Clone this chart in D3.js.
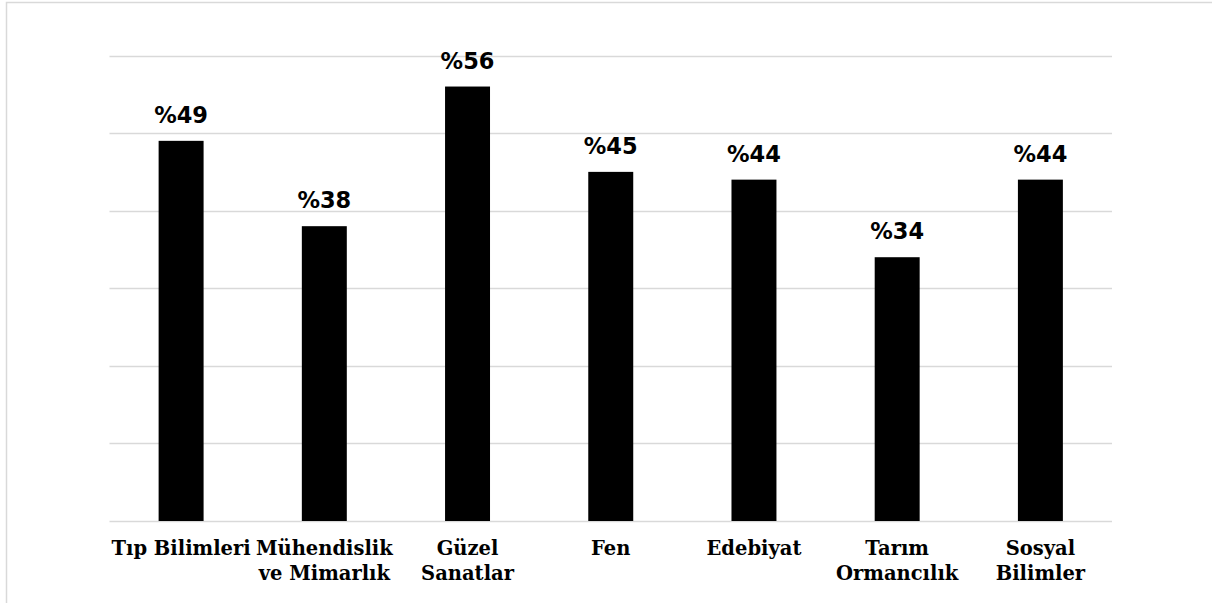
<!DOCTYPE html>
<html lang="tr">
<head>
    <meta charset="UTF-8">
    <title>Alanlara Göre Oranlar</title>
    <script src="https://d3js.org/d3.v7.min.js"></script>
    <style>
        body {
            margin: 0;
            background: #fff;
        }

        .value-label {
            font-family: "DejaVu Sans", Verdana, sans-serif;
            font-weight: bold;
            font-size: 22.5px;
            fill: #000;
            text-anchor: middle;
        }

        .cat-label {
            font-family: "DejaVu Serif", "Bookman Old Style", serif;
            font-weight: bold;
            font-size: 19.5px;
            fill: #000;
            text-anchor: middle;
        }
    </style>
</head>
<body>

<div id="chart"></div>

<script>
    // Kategoriler (iki satıra bölünenler \n ile)
    const categories = [
        "Tıp Bilimleri",
        "Mühendislik\nve Mimarlık",
        "Güzel\nSanatlar",
        "Fen",
        "Edebiyat",
        "Tarım\nOrmancılık",
        "Sosyal\nBilimler"
    ];
    const values = [49, 38, 56, 45, 44, 34, 44];
    const yTicks = [0, 10, 20, 30, 40, 50, 60];

    const width = 1212;
    const height = 603;
    const margin = {top: 55.5, right: 100, bottom: 82, left: 109.5};

    const svg = d3.select("#chart")
        .append("svg")
        .attr("width", width)
        .attr("height", height);

    // outer frame
    svg.append("rect")
        .attr("x", 6.5)
        .attr("y", 2.5)
        .attr("width", width)
        .attr("height", height)
        .attr("fill", "none")
        .attr("stroke", "#d9d9d9")
        .attr("stroke-width", 1.5);

    const x = d3.scaleBand()
        .domain(categories)
        .range([margin.left, width - margin.right])
        .paddingInner(0.686)
        .paddingOuter(0.343);

    const y = d3.scaleLinear()
        .domain([0, 60])
        .range([height - margin.bottom, margin.top]);

    // gridlines
    svg.append("g")
        .selectAll("line")
        .data(yTicks)
        .enter()
        .append("line")
        .attr("x1", margin.left)
        .attr("x2", width - margin.right)
        .attr("y1", d => Math.round(y(d)) + 0.5)
        .attr("y2", d => Math.round(y(d)) + 0.5)
        .attr("stroke", "#d9d9d9")
        .attr("stroke-width", 1.5);

    // bars
    svg.append("g")
        .selectAll("rect")
        .data(values)
        .enter()
        .append("rect")
        .attr("x", (d, i) => x(categories[i]))
        .attr("y", d => y(d))
        .attr("width", x.bandwidth())
        .attr("height", d => y(0) - y(d))
        .attr("fill", "#000");

    // value labels
    svg.append("g")
        .selectAll("text")
        .data(values)
        .enter()
        .append("text")
        .attr("class", "value-label")
        .attr("x", (d, i) => x(categories[i]) + x.bandwidth() / 2)
        .attr("y", d => y(d) - 18)
        .text(d => "%" + d);

    // category labels
    const cats = svg.append("g")
        .selectAll("text")
        .data(categories)
        .enter()
        .append("text")
        .attr("class", "cat-label")
        .attr("x", d => x(d) + x.bandwidth() / 2)
        .attr("y", y(0) + 34);

    cats.selectAll("tspan")
        .data(d => d.split("\n"))
        .enter()
        .append("tspan")
        .attr("x", function () { return d3.select(this.parentNode).attr("x"); })
        .attr("dy", (d, i) => i === 0 ? 0 : 25)
        .text(d => d);
</script>
</body>
</html>
